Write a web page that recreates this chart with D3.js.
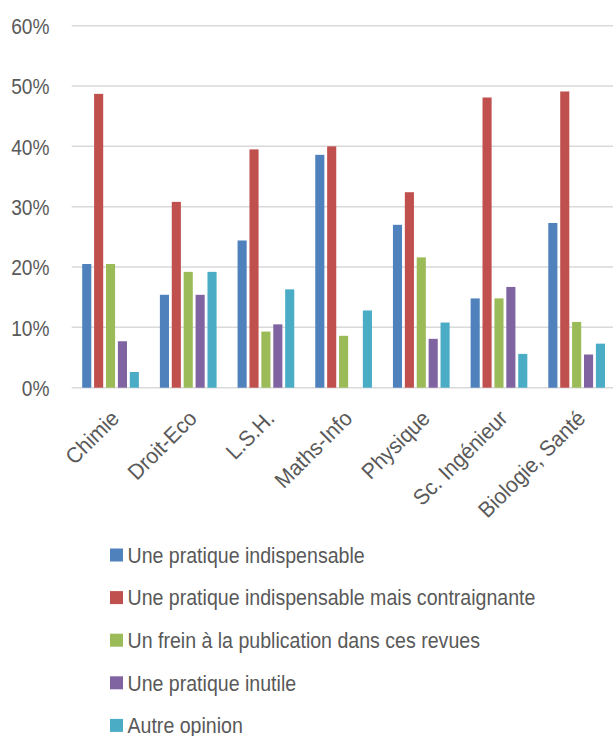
<!DOCTYPE html>
<html>
<head>
<meta charset="utf-8">
<script src="https://cdn.jsdelivr.net/npm/d3@7"></script>
<style>
  html, body { margin: 0; padding: 0; background: #fff; }
  svg { display: block; }
  text { font-family: 'Liberation Sans', Arial, sans-serif; fill: #595959; }
</style>
</head>
<body>
<svg id="chart" width="613" height="736"></svg>
<script>
// Disciplines (x axis)
const categories = ["Chimie", "Droit-Eco", "L.S.H.", "Maths-Info", "Physique", "Sc. Ingénieur", "Biologie, Santé"];

// Opinion series (legend order)
const seriesNames = [
  "Une pratique indispensable",
  "Une pratique indispensable mais contraignante",
  "Un frein à la publication dans ces revues",
  "Une pratique inutile",
  "Autre opinion"
];

// Shares in percent, one array per series, in category order
const indispensable = [20.5, 15.4, 24.4, 38.6, 27.0, 14.8, 27.3];
const contraignante = [48.7, 30.8, 39.5, 40.0, 32.4, 48.1, 49.1];
const frein         = [20.5, 19.2,  9.3,  8.6, 21.6, 14.8, 10.9];
const inutile       = [ 7.7, 15.4, 10.5,  0.0,  8.1, 16.7,  5.5];
const autre         = [ 2.6, 19.2, 16.3, 12.8, 10.8,  5.6,  7.3];

const yTicks = [0, 10, 20, 30, 40, 50, 60];

const seriesValues = [indispensable, contraignante, frein, inutile, autre];
const colors = ["#4F81BD", "#C0504D", "#9BBB59", "#8064A2", "#4BACC6"];

// Horizontal squeeze giving the narrow sans look of the labels
const narrow = 0.87;

const svg = d3.select("#chart");

const plot = { left: 71.7, right: 615.5, top: 25.7, bottom: 387.7 };

const y = d3.scaleLinear().domain([0, 60]).range([plot.bottom, plot.top]);
const x0 = d3.scaleBand().domain(categories).range([plot.left, plot.right]).padding(0);
const groupWidth = 56.7;
const x1 = d3.scaleBand().domain(d3.range(seriesNames.length))
  .range([0, groupWidth]).paddingInner(0.235).paddingOuter(0);
const groupOffset = (x0.bandwidth() - groupWidth) / 2;

// Horizontal gridlines
svg.append("g")
  .selectAll("line")
  .data(yTicks)
  .join("line")
  .attr("x1", plot.left)
  .attr("x2", plot.right)
  .attr("y1", d => y(d))
  .attr("y2", d => y(d))
  .attr("stroke", "#d9d9d9")
  .attr("stroke-width", 1.5);

// Y axis labels
const yAxis = d3.axisLeft(y).tickValues(yTicks).tickFormat(d => d + "%").tickSize(0).tickPadding(0);
const yG = svg.append("g").attr("transform", "translate(49.5,0)").call(yAxis);
yG.select(".domain").remove();
yG.selectAll("text")
  .attr("font-size", 22)
  .attr("font-family", null)
  .attr("fill", "#595959")
  .attr("x", 0)
  .attr("dy", "0.35em")
  .attr("transform", `scale(${narrow},1)`);

// Bars
const groups = svg.append("g")
  .selectAll("g")
  .data(categories)
  .join("g")
  .attr("transform", c => `translate(${x0(c) + groupOffset},0)`);

groups.selectAll("rect")
  .data((c, ci) => seriesValues.map((vals, si) => ({ si, v: vals[ci] })))
  .join("rect")
  .filter(d => d.v > 0)
  .attr("x", d => x1(d.si))
  .attr("width", x1.bandwidth())
  .attr("y", d => y(d.v))
  .attr("height", d => y(0) - y(d.v))
  .attr("fill", d => colors[d.si]);

// X axis category labels, rotated
const xAxis = d3.axisBottom(x0).tickSize(0).tickPadding(0);
const xG = svg.append("g").attr("transform", `translate(0,${plot.bottom})`).call(xAxis);
xG.select(".domain").remove();
xG.selectAll("text")
  .attr("font-size", 22)
  .attr("font-family", null)
  .attr("fill", "#595959")
  .attr("text-anchor", "end")
  .attr("dy", null)
  .attr("y", 0)
  .attr("transform", `translate(10,32) rotate(-45) scale(0.95,1)`);

// Legend
const legend = svg.append("g")
  .selectAll("g")
  .data(seriesNames)
  .join("g")
  .attr("transform", (d, i) => `translate(110,${555 + i * 42.6})`);

legend.append("rect")
  .attr("x", 0)
  .attr("y", -6.5)
  .attr("width", 13)
  .attr("height", 13)
  .attr("fill", (d, i) => colors[i]);

legend.append("text")
  .attr("x", 0)
  .attr("y", 0)
  .attr("dy", "0.35em")
  .attr("font-size", 22)
  .attr("transform", `translate(17.5,0) scale(${narrow + 0.02},1)`)
  .text(d => d);
</script>
</body>
</html>
